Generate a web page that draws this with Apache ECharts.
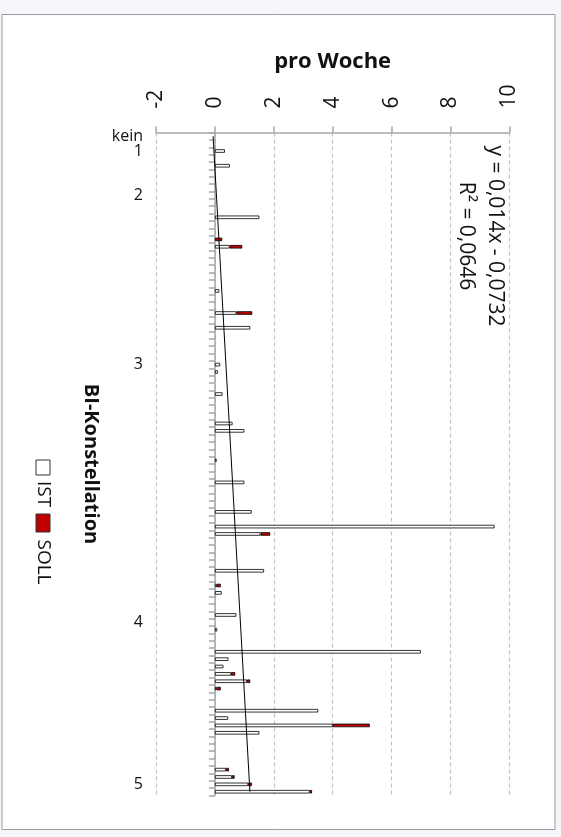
<!DOCTYPE html>
<html>
<head>
<meta charset="utf-8">
<script src="https://cdn.jsdelivr.net/npm/echarts@6/dist/echarts.min.js"></script>
<style>
html,body{margin:0;padding:0;background:#f4f6fb;}
#chart{width:561px;height:837px;}
</style>
</head>
<body>
<div id="chart"></div>
<script>
// ---- data ----
const categoryCount = 90;
const tickLabelPositions = [0, 2, 8, 31, 66, 88];
const tickLabels = ['kein', '1', '2', '3', '4', '5'];
// [category index, value]
const istPoints = [[2,0.34],[4,0.51],[11,1.51],[15,0.5],[21,0.15],[24,0.73],[26,1.2],[31,0.18],[32,0.1],[35,0.26],[39,0.6],[40,1.0],[44,0.06],[47,1.0],[51,1.25],[53,9.5],[54,1.55],[59,1.67],[61,0.07],[62,0.23],[65,0.73],[67,0.08],[70,7.0],[71,0.46],[72,0.29],[73,0.55],[74,1.09],[75,0.05],[78,3.51],[79,0.45],[80,4.0],[81,1.51],[86,0.37],[87,0.58],[88,1.13],[89,3.22]];
const sollPoints = [[14,0.25],[15,0.43],[24,0.54],[54,0.33],[61,0.13],[73,0.14],[74,0.11],[75,0.15],[80,1.26],[86,0.11],[87,0.09],[88,0.13],[89,0.08]];
const trendStart = -0.06;
const trendEnd = 1.19;
const valueTicks = { min: -2, max: 10, interval: 2 };
const equationText = 'y = 0,014x - 0,0732\nR² = 0,0646';

// ---- build arrays ----
const categories = [];
for (let i = 0; i < categoryCount; i++) categories.push('c' + i);
const labelOf = {};
tickLabelPositions.forEach((p, k) => { labelOf['c' + p] = tickLabels[k]; });
const istData = new Array(categoryCount).fill(null);
istPoints.forEach(([i, v]) => { istData[i] = v; });
const sollData = new Array(categoryCount).fill(null);
sollPoints.forEach(([i, v]) => { sollData[i] = v; });
const trendData = [[trendStart, categories[0]], [trendEnd, categories[categoryCount - 1]]];

const FONT = 'Open Sans';
const chart = echarts.init(document.getElementById('chart'));
chart.setOption({
  backgroundColor: 'transparent',
  animation: false,
  grid: { left: 156, right: 51.7, top: 132.6, bottom: 41.6, containLabel: false },
  xAxis: {
    type: 'value', position: 'top',
    min: valueTicks.min, max: valueTicks.max, interval: valueTicks.interval,
    name: 'pro Woche', nameLocation: 'middle', nameGap: 60,
    nameTextStyle: { fontFamily: FONT, fontWeight: 'bold', fontSize: 22, color: '#111' },
    axisLine: { show: true, lineStyle: { color: '#a6a6a6', width: 1.5 } },
    axisTick: { show: true, length: 6, lineStyle: { color: '#a6a6a6', width: 1.5 } },
    axisLabel: { rotate: -90, margin: 24, fontFamily: FONT, fontSize: 21, color: '#111' },
    splitLine: { show: true, lineStyle: { color: '#c4c4c4', width: 1.2, type: [4, 3] } }
  },
  yAxis: {
    type: 'category', inverse: true, data: categories,
    name: 'BI-Konstellation', nameLocation: 'middle', nameGap: 55, nameRotate: -90,
    nameTextStyle: { fontFamily: FONT, fontWeight: 'bold', fontSize: 20, color: '#111' },
    axisLine: { show: true, onZero: true, lineStyle: { color: '#a6a6a6', width: 1.5 } },
    axisTick: { show: true, length: 6, interval: 0, lineStyle: { color: '#a6a6a6', width: 1.5 } },
    axisLabel: { interval: 0, margin: 13, fontFamily: FONT, fontSize: 16, color: '#111',
      formatter: v => labelOf[v] || '' },
    splitLine: { show: false }
  },
  series: [
    { name: 'IST', type: 'bar', stack: 's', data: istData, barWidth: 3.5,
      itemStyle: { color: '#ffffff', borderColor: '#000', borderWidth: 0.8 } },
    { name: 'SOLL', type: 'bar', stack: 's', data: sollData, barWidth: 3.5,
      itemStyle: { color: '#c00000', borderColor: '#000', borderWidth: 0.8 } },
    { name: 'Trend', type: 'line', data: trendData, symbol: 'none', silent: true,
      lineStyle: { color: '#000', width: 1 }, z: 5 }
  ],
  graphic: [
    { type: 'rect', z: -10, shape: { x: 2, y: 14.5, width: 553, height: 815 },
      style: { fill: '#ffffff', stroke: '#9a9a9a', lineWidth: 1 } },
    { type: 'text', x: 480, y: 236, rotation: -Math.PI / 2,
      style: { text: equationText, x: 0, y: 0, align: 'center', verticalAlign: 'middle',
        fontFamily: FONT, fontSize: 21, lineHeight: 29, fill: '#111' } },
    // legend
    { type: 'rect', shape: { x: 36, y: 460, width: 14, height: 15 },
      style: { fill: '#ffffff', stroke: '#333', lineWidth: 1 } },
    { type: 'text', x: 43, y: 494, rotation: -Math.PI / 2,
      style: { text: 'IST', x: 0, y: 0, align: 'center', verticalAlign: 'middle',
        fontFamily: FONT, fontSize: 19, fill: '#111' } },
    { type: 'rect', shape: { x: 36, y: 514, width: 14, height: 18 },
      style: { fill: '#c00000', stroke: '#333', lineWidth: 1 } },
    { type: 'text', x: 43, y: 562, rotation: -Math.PI / 2,
      style: { text: 'SOLL', x: 0, y: 0, align: 'center', verticalAlign: 'middle',
        fontFamily: FONT, fontSize: 19, fill: '#111' } }
  ]
});
</script>
</body>
</html>
